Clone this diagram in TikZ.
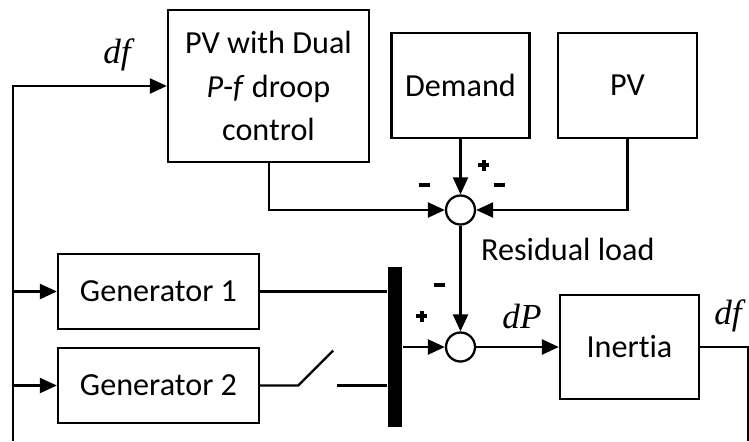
\documentclass[tikz,border=0pt]{standalone}
\usepackage{fontspec}
\setmainfont{Carlito}[Ligatures={NoCommon,NoRare}]
\newfontfamily\tnr{Liberation Serif}
\usepackage{tikz}
\usetikzlibrary{arrows.meta,positioning,calc}

\tikzset{
  block/.style={draw, line width=1.3pt, align=center, inner sep=0pt,
    font={\fontsize{18.3}{25}\selectfont}},
  sumnode/.style={draw, circle, line width=1.3pt, minimum size=0.58cm, inner sep=0pt, fill=white},
  sign/.style={inner sep=0pt},
  sig/.style={font={\fontsize{20}{20}\selectfont\tnr\itshape}},
}
\newcommand{\minussign}{\rule{0.22cm}{0.07cm}}
\newcommand{\plussign}{\rlap{\rule[0.0775cm]{0.22cm}{0.065cm}}\hspace{0.0775cm}\rule{0.065cm}{0.22cm}\hspace{0.0775cm}}

\begin{document}
\begin{tikzpicture}[line width=1.3pt, >={Triangle[length=0.34cm,width=0.30cm]}]
  \useasboundingbox (0,0) rectangle (14.98,8.82);

  % blocks
  \node[block, minimum width=4.02cm, minimum height=3.04cm] (pvdroop) at (5.37,7.10)
    {PV with Dual\\\textit{P}-\textit{f} droop\\control};
  \node[block, minimum width=2.76cm, minimum height=2.10cm] (demand) at (9.21,7.11) {Demand};
  \node[block, minimum width=2.78cm, minimum height=2.10cm] (pv) at (12.55,7.11) {PV};
  \node[block, minimum width=4.02cm, minimum height=1.50cm] (gena) at (3.17,2.99) {Generator 1};
  \node[block, minimum width=4.02cm, minimum height=1.50cm] (genb) at (3.17,1.11) {Generator 2};
  \node[block, minimum width=2.78cm, minimum height=2.08cm] (inertia) at (12.59,1.88) {Inertia};

  % summing points and bus
  \node[sumnode] (sumres) at (9.21,4.62) {};
  \node[sumnode] (sumdp) at (9.21,1.88) {};
  \node[fill=black, minimum width=0.28cm, minimum height=3.2cm, inner sep=0pt] (bus) at (7.90,1.88) {};

  % residual load
  \draw[->] (demand) -- (sumres);
  \draw[->] (pv.south) |- (sumres);
  \draw[->] ($(pvdroop.south)+(0.01,0)$) |- (sumres);
  \draw[->] (sumres) -- (sumdp);
  \node[anchor=west, inner sep=0pt, font={\fontsize{18.3}{20}\selectfont}] (reslabel) at (9.60,3.84) {Residual load};

  % generators into bus
  \draw (gena) -- (bus.west |- gena);
  \coordinate (swa) at ($(genb.east)+(0.76,0)$);
  \coordinate (swb) at ($(bus.west |- genb)+(-1.00,0)$);
  \draw (genb.east) -- (swa) -- ++(0.70,0.70);
  \draw (swb) -- (bus.west |- genb);
  \draw[->] (bus) -- (sumdp);
  \draw[->] (sumdp) -- (inertia);

  % feedback of df
  \coordinate (fbr) at (14.96,0);
  \coordinate (fbl) at (0.26,0);
  \draw (inertia.east) -| (fbr);
  \draw[->] (fbl) |- (pvdroop.west);
  \draw[->] (fbl |- gena) -- (gena);
  \draw[->] (fbl |- genb) -- (genb);

  % signs
  \node[sign] (s1) at (9.64,5.52) {\plussign};
  \node[sign] (s2) at (8.48,5.12) {\minussign};
  \node[sign] (s3) at (9.98,5.12) {\minussign};
  \node[sign] (s4) at (8.78,3.12) {\minussign};
  \node[sign] (s5) at (8.40,2.50) {\plussign};

  % signal labels
  \node[sig] (dfa) at (2.34,7.72) {df};
  \node[sig] (dp) at (10.44,2.50) {dP};
  \node[sig] (dfb) at (14.56,2.50) {df};
\end{tikzpicture}
\end{document}
